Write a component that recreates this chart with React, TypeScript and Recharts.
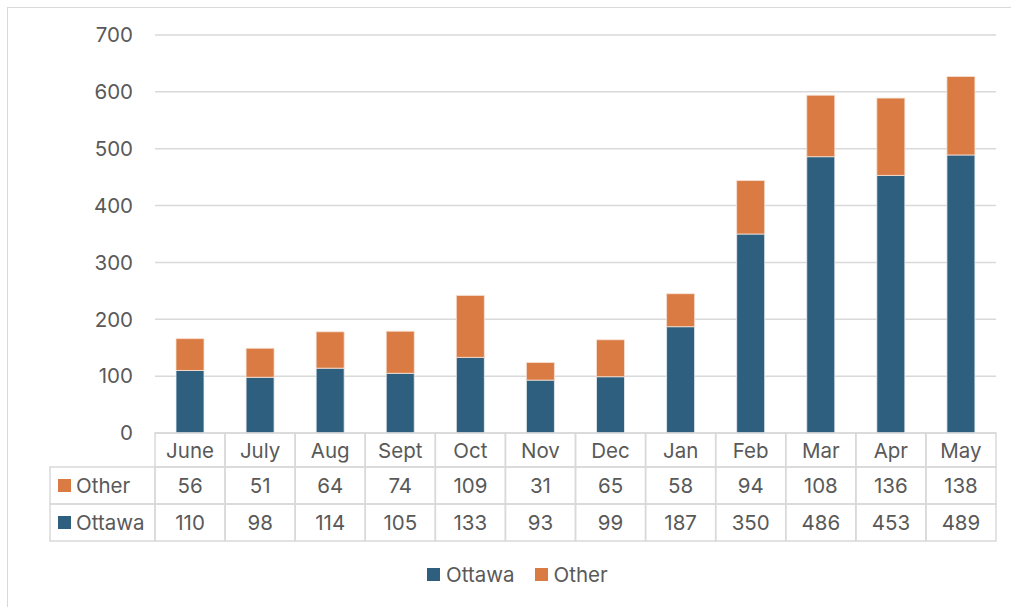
import React from "react";
import { BarChart, Bar, XAxis, YAxis, CartesianGrid, Legend } from "recharts";

const months = ["June", "July", "Aug", "Sept", "Oct", "Nov", "Dec", "Jan", "Feb", "Mar", "Apr", "May"];
const ottawa = [110, 98, 114, 105, 133, 93, 99, 187, 350, 486, 453, 489];
const other = [56, 51, 64, 74, 109, 31, 65, 58, 94, 108, 136, 138];
const yTicks = [0, 100, 200, 300, 400, 500, 600, 700];

const data = months.map((m, i) => ({ month: m, Ottawa: ottawa[i], Other: other[i] }));

const BLUE = "#2E5F7F";
const ORANGE = "#DA7B44";
const TEXT = "#595959";
const LINE = "#D9D9D9";
const FONT = "Inter, sans-serif";
const FS = 20.5;

const ROWS = [0, 34, 71, 108];
const COLW = 70;

const TableTick = (props: any) => {
  const { x, y, payload, index } = props;
  const vals = [payload.value, String(other[index]), String(ottawa[index])];
  const left = x - COLW / 2;
  return (
    <g>
      {vals.map((v, r) => (
        <g key={r}>
          <rect x={left} y={y + ROWS[r]} width={COLW} height={ROWS[r + 1] - ROWS[r]} fill="none" stroke={LINE} strokeWidth={1.5} />
          <text
            x={x}
            y={y + (ROWS[r] + ROWS[r + 1]) / 2}
            textAnchor="middle"
            dominantBaseline="central"
            fill={TEXT}
            fontSize={FS}
            fontFamily={FONT}
          >
            {v}
          </text>
        </g>
      ))}
      {index === 0 && (
        <g>
          {[
            { name: "Other", color: ORANGE, r: 1 },
            { name: "Ottawa", color: BLUE, r: 2 },
          ].map((h) => {
            const top = y + ROWS[h.r];
            const hgt = ROWS[h.r + 1] - ROWS[h.r];
            return (
              <g key={h.name}>
                <rect x={50} y={top} width={left - 50} height={hgt} fill="none" stroke={LINE} strokeWidth={1.5} />
                <rect x={58} y={top + hgt / 2 - 6.5} width={13} height={13} fill={h.color} />
                <text x={76} y={top + hgt / 2} dominantBaseline="central" fill={TEXT} fontSize={FS} fontFamily={FONT}>
                  {h.name}
                </text>
              </g>
            );
          })}
        </g>
      )}
    </g>
  );
};

const LegendContent = () => (
  <div style={{ height: 66, display: "flex", alignItems: "center", paddingLeft: 427, fontFamily: FONT, fontSize: FS, color: TEXT }}>
    {[
      { name: "Ottawa", color: BLUE },
      { name: "Other", color: ORANGE },
    ].map((it) => (
      <div key={it.name} style={{ display: "flex", alignItems: "center", marginRight: 20 }}>
        <div style={{ width: 13, height: 13, background: it.color, marginRight: 6 }} />
        <span>{it.name}</span>
      </div>
    ))}
  </div>
);

export default function App() {
  return (
    <div style={{ position: "absolute", left: 0, top: 0, width: 1011, height: 607, background: "#fff" }}>
      <div
        style={{
          position: "absolute",
          left: 7,
          top: 7,
          width: 1011,
          height: 607,
          borderLeft: `1.5px solid ${LINE}`,
          borderTop: `1.5px solid ${LINE}`,
        }}
      />
      <div style={{ position: "absolute", left: 0, top: 0 }}>
        <BarChart width={1011} height={607} data={data} margin={{ top: 35, right: 15, left: 0, bottom: 0 }} barSize={28}>
          <CartesianGrid vertical={false} stroke={LINE} strokeWidth={1.5} />
          <XAxis
            dataKey="month"
            axisLine={false}
            tickLine={false}
            tickSize={0}
            tickMargin={0}
            height={108}
            interval={0}
            tick={<TableTick />}
          />
          <YAxis
            domain={[0, 700]}
            ticks={yTicks}
            axisLine={false}
            tickLine={false}
            tickSize={0}
            tickMargin={22}
            width={155}
            tick={{ fill: TEXT, fontSize: FS, fontFamily: FONT }}
          />
          <Legend verticalAlign="bottom" content={<LegendContent />} />
          <Bar dataKey="Ottawa" stackId="a" fill={BLUE} stroke="#E8EEF2" strokeWidth={0.8} isAnimationActive={false} />
          <Bar dataKey="Other" stackId="a" fill={ORANGE} stroke="#F6E2D6" strokeWidth={0.8} isAnimationActive={false} />
        </BarChart>
      </div>
    </div>
  );
}
